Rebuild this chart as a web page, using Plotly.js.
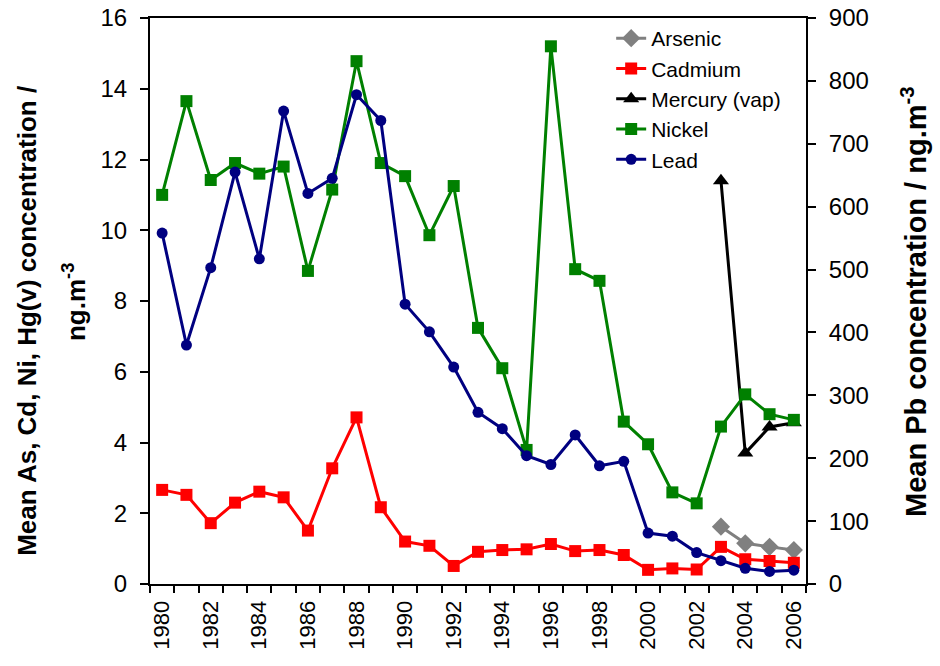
<!DOCTYPE html>
<html>
<head>
<meta charset="utf-8">
<script src="https://cdn.plot.ly/plotly-3.0.1.min.js"></script>
<style>html,body{margin:0;padding:0;background:#fff;}#chart{width:940px;height:666px;}</style>
</head>
<body>
<div id="chart"></div>
<script>
const years = [1980,1981,1982,1983,1984,1985,1986,1987,1988,1989,1990,1991,1992,1993,1994,1995,1996,1997,1998,1999,2000,2001,2002,2003,2004,2005,2006];
const nickel = [11.0,13.65,11.42,11.9,11.6,11.8,8.85,11.15,14.78,11.9,11.53,9.86,11.25,7.24,6.1,3.79,15.2,8.9,8.57,4.59,3.95,2.59,2.28,4.45,5.36,4.8,4.64];
const cadmium = [2.66,2.52,1.72,2.30,2.61,2.45,1.51,3.27,4.71,2.17,1.20,1.08,0.51,0.91,0.96,0.98,1.13,0.93,0.96,0.82,0.40,0.44,0.41,1.05,0.70,0.65,0.60];
const lead = [558,380,503,655,517,752,621,645,778,737,445,401,345,273,247,204,190,237,188,195,81,76,50,37,25,20,22];
const recentYears = [2003,2004,2005,2006];
const arsenic = [1.62,1.15,1.05,0.96];
const mercury = [11.4,3.70,4.44,4.56];
const xTickLabels = ["1980","1982","1984","1986","1988","1990","1992","1994","1996","1998","2000","2002","2004","2006"];
const leftTitleLine1 = "Mean As, Cd, Ni, Hg(v) concentration /";
const leftTitleLine2 = "ng.m<sup>-3</sup>";
const rightTitle = "Mean Pb concentration / ng.m<sup>-3</sup>";

const font = "Liberation Sans, Arial, sans-serif";
const boundaries = [];
for (let i = 0; i <= years.length; i++) boundaries.push(years[0] - 0.5 + i);
const labelVals = xTickLabels.map(Number);

const traces = [
  {x: recentYears, y: arsenic, name: "Arsenic", mode: "lines+markers",
   line: {color: "#808080", width: 3}, marker: {symbol: "diamond", size: 14, color: "#808080"}},
  {x: years, y: cadmium, name: "Cadmium", mode: "lines+markers",
   line: {color: "#FF0000", width: 3}, marker: {symbol: "square", size: 12, color: "#FF0000"}},
  {x: recentYears, y: mercury, name: "Mercury (vap)", mode: "lines+markers",
   line: {color: "#000000", width: 3}, marker: {symbol: "triangle-up", size: 14, color: "#000000"}},
  {x: years, y: nickel, name: "Nickel", mode: "lines+markers",
   line: {color: "#008000", width: 3}, marker: {symbol: "square", size: 12, color: "#008000"}},
  {x: years, y: lead, name: "Lead", mode: "lines+markers", yaxis: "y2",
   line: {color: "#000080", width: 3}, marker: {symbol: "circle", size: 11, color: "#000080"}}
];

const titleFont = {family: font, size: 26, color: "#000"};
const layout = {
  width: 940, height: 666,
  margin: {l: 150, r: 134, t: 18, b: 82},
  paper_bgcolor: "#fff", plot_bgcolor: "#fff",
  font: {family: font, color: "#000"},
  showlegend: true,
  legend: {x: 0.703, y: 1.0, xanchor: "left", yanchor: "top", bgcolor: "rgba(0,0,0,0)",
           font: {family: font, size: 21, color: "#000"}, tracegroupgap: 0},
  xaxis: {
    range: [years[0] - 0.5, years[years.length - 1] + 0.5],
    showgrid: false, zeroline: false,
    showline: true, linecolor: "#000", linewidth: 2, mirror: true,
    tickmode: "array", tickvals: labelVals, ticktext: xTickLabels,
    ticks: "", tickangle: -90, ticklabelstandoff: 6,
    tickfont: {family: font, size: 22, color: "#000"},
    minor: {tickmode: "array", tickvals: boundaries, ticks: "outside", ticklen: 7, tickwidth: 2, tickcolor: "#000", showgrid: false}
  },
  yaxis: {
    range: [0, 16], dtick: 2, showgrid: false, zeroline: false,
    showline: true, linecolor: "#000", linewidth: 2,
    ticks: "outside", ticklen: 8, tickwidth: 2, tickcolor: "#000",
    ticklabelstandoff: 8,
    tickfont: {family: font, size: 24, color: "#000"}
  },
  yaxis2: {
    range: [0, 900], dtick: 100, overlaying: "y", side: "right",
    showgrid: false, zeroline: false,
    showline: true, linecolor: "#000", linewidth: 2,
    ticks: "outside", ticklen: 8, tickwidth: 2, tickcolor: "#000",
    ticklabelstandoff: 8,
    tickfont: {family: font, size: 24, color: "#000"}
  },
  annotations: [
    {text: "<b>" + leftTitleLine1 + "</b>", textangle: -90, xref: "paper", yref: "paper",
     x: -0.1875, y: 0.465, xanchor: "center", yanchor: "middle", showarrow: false, font: titleFont},
    {text: "<b>" + leftTitleLine2 + "</b>", textangle: -90, xref: "paper", yref: "paper",
     x: -0.116, y: 0.498, xanchor: "center", yanchor: "middle", showarrow: false, font: titleFont},
    {text: "<b>" + rightTitle + "</b>", textangle: -90, xref: "paper", yref: "paper",
     x: 1.1646, y: 0.5, xanchor: "center", yanchor: "middle", showarrow: false,
     font: {family: font, size: 29, color: "#000"}}
  ]
};

Plotly.newPlot("chart", traces, layout, {displayModeBar: false, staticPlot: true});
</script>
</body>
</html>
